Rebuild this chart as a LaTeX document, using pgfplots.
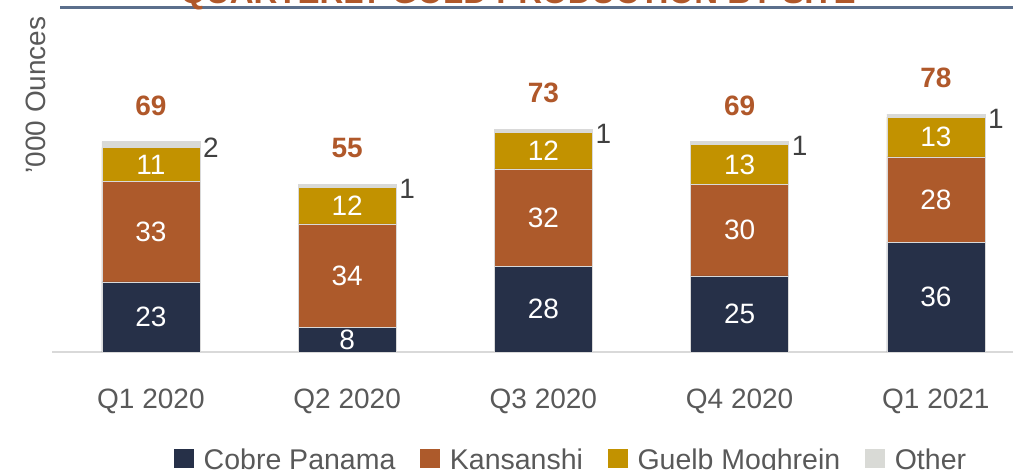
\documentclass[border=0pt]{standalone}
\usepackage{pgfplots}
\usepackage{pgfplotstable}
\pgfplotsset{compat=1.18}
\usepackage{fontspec}
\setmainfont{Liberation Sans}

\definecolor{cobre}{HTML}{263048}
\definecolor{kans}{HTML}{AD5A2B}
\definecolor{guelb}{HTML}{C29200}
\definecolor{other}{HTML}{D9DAD6}
\definecolor{titleor}{HTML}{B0582A}
\definecolor{rulecol}{HTML}{5B6F8C}
\definecolor{txtgray}{HTML}{595959}
\definecolor{darktxt}{HTML}{404040}

% '000 ounces by quarter
\pgfplotstableread{
x cobre kans guelb other total
0 23 33 11 2 69
1 8 34 12 1 55
2 28 32 12 1 73
3 25 30 13 1 69
4 36 28 13 1 78
}\prod

\pgfplotsset{
  gold base/.style={
    at={(52pt,117pt)}, anchor=south west,
    scale only axis, width=961pt, height=305pt,
    xmin=-0.504, xmax=4.393, ymin=0, ymax=100,
    clip=false,
    /pgf/number format/assume math mode=true,
  },
  % labels already sit in the middle of each stacked segment
  seg/.style={
    fill=#1, draw=white!85!black, line width=0.4pt,
    nodes near coords,
    every node near coord/.append style={
      anchor=center, inner sep=0pt, text=white,
      font=\fontsize{28}{30}\selectfont},
  },
}

\begin{document}
\begin{tikzpicture}
\useasboundingbox (0,0) rectangle (1013pt,469pt);
\clip (0,0) rectangle (1013pt,469pt);

\begin{axis}[gold base,
  ybar stacked, bar width=98pt,
  axis y line=none, axis x line*=bottom,
  x axis line style={-, draw=black!15, line width=1.5pt},
  ytick=\empty,
  xtick={0,1,2,3,4},
  xticklabels={Q1 2020,Q2 2020,Q3 2020,Q4 2020,Q1 2021},
  major tick length=0pt,
  xticklabel style={anchor=north, inner sep=0pt, yshift=-37pt,
    text=txtgray, font=\fontsize{28}{30}\selectfont},
  legend columns=-1,
  legend image code/.code={\fill[#1,draw=none] (0pt,-8.5pt) rectangle (19.5pt,11pt);},
  legend style={at={(0.127,-0.353)}, anchor=west, draw=none, fill=none,
    inner sep=0pt, text=txtgray, font=\fontsize{28.5}{30}\selectfont,
    nodes={inner sep=0pt},
    /tikz/every odd column/.append style={column sep=10pt},
    /tikz/every even column/.append style={column sep=25pt}},
]
\addplot[seg=cobre] table[x=x, y=cobre] {\prod};
\addplot[seg=kans] table[x=x, y=kans] {\prod};
\addplot[seg=guelb] table[x=x, y=guelb] {\prod};
\addplot[fill=other, draw=white!85!black, line width=0.4pt,
  nodes near coords,
  every node near coord/.append style={anchor=west, inner sep=0pt,
    xshift=52pt, yshift=-3pt, text=darktxt,
    font=\fontsize{28}{30}\selectfont}]
  table[x=x, y=other] {\prod};
\legend{Cobre Panama, Kansanshi, Guelb Moghrein, Other}
\end{axis}

% totals above the bars
\begin{axis}[gold base, hide axis]
\addplot[draw=none, mark=none, nodes near coords, point meta=explicit,
  every node near coord/.append style={anchor=center, inner sep=0pt,
    yshift=36pt, text=titleor, font=\bfseries\fontsize{28}{30}\selectfont}]
  table[x=x, y=total, meta=total] {\prod};
\end{axis}

\node[rotate=90, text=txtgray, font=\fontsize{28}{30}\selectfont]
  at (36pt,374pt) {'000 Ounces};
\fill[rulecol] (60pt,460pt) rectangle (1013pt,463pt);
\node[anchor=base, inner sep=0pt, text=titleor,
  font=\bfseries\fontsize{33}{35}\selectfont]
  at (518pt,465pt) {QUARTERLY GOLD PRODUCTION BY SITE};
\end{tikzpicture}
\end{document}
